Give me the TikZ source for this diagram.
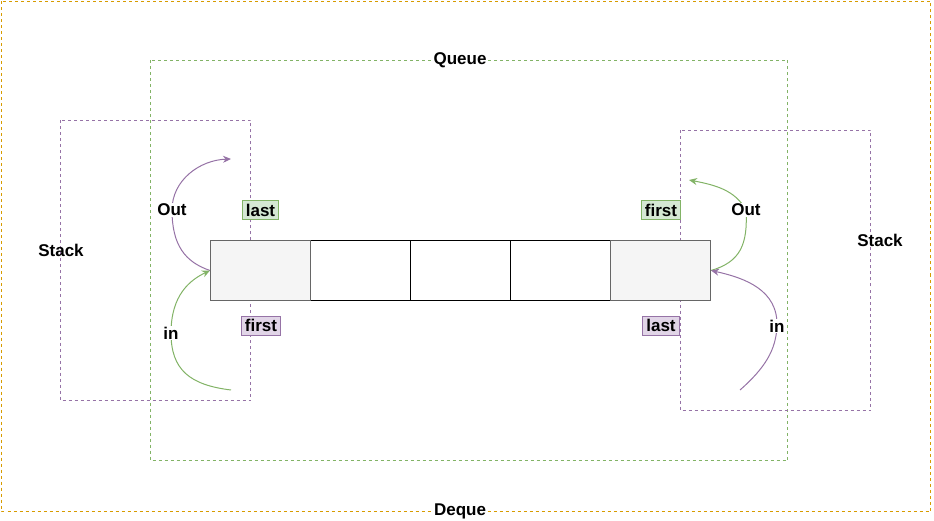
\documentclass[tikz,border=0pt]{standalone}
\usepackage{fontspec}
\setmainfont{Liberation Sans}
\usepackage{tikz}
\usetikzlibrary{arrows.meta}
\definecolor{dequeorange}{HTML}{D79B00}
\definecolor{queuegreen}{HTML}{82B366}
\definecolor{stackpurple}{HTML}{9673A6}
\definecolor{greenfill}{HTML}{D5E8D4}
\definecolor{purplefill}{HTML}{E1D5E7}
\definecolor{endfill}{HTML}{F5F5F5}

\begin{document}
\begin{tikzpicture}[x=1pt,y=-1pt,line width=1pt,
    font=\fontsize{17}{20}\selectfont\bfseries,
    frame/.style={dash pattern=on 3pt off 3pt},
    lbl/.style={fill=white,text=black,inner sep=1pt},
    tag/.style={draw,inner xsep=3.5pt,inner ysep=0pt,minimum height=19pt},
    cell/.style={draw,minimum width=100pt,minimum height=60pt,inner sep=0pt},
    arr/.style={-{Stealth[length=8pt,width=7pt]}}]
    \useasboundingbox (0,0) rectangle (934,521);
    % frames
    \draw[frame,dequeorange] (1.5,1.5) rectangle (930.5,511.5);
    \draw[frame,queuegreen] (150.5,60.5) rectangle (787.5,460.5);
    \draw[frame,stackpurple] (60.5,120.5) rectangle (250.5,400.5);
    \draw[frame,stackpurple] (680.5,130.5) rectangle (870.5,410.5);
    \node[lbl] (deque) at (460,511) {Deque};
    \node[lbl] (queue) at (460,60) {Queue};
    \node (stackL) at (61,250) {Stack};
    \node (stackR) at (880,240) {Stack};
    % cells
    \foreach \i in {1,...,5}
      \node[cell] (c\i) at (160.5+100*\i,270.5) {};
    \node[cell,fill=endfill,draw=black!60] (c1) at (260.5,270.5) {};
    \node[cell,fill=endfill,draw=black!60] (c5) at (660.5,270.5) {};
    % end tags
    \node[tag,draw=queuegreen,fill=greenfill] (lastL) at (260.5,210.5) {last};
    \node[tag,draw=stackpurple,fill=purplefill] (firstL) at (261,325.5) {first};
    \node[tag,draw=queuegreen,fill=greenfill] (firstR) at (661,210.5) {first};
    \node[tag,draw=stackpurple,fill=purplefill] (lastR) at (661,325.5) {last};
    % arrows
    \coordinate (outL) at (231,159);
    \coordinate (inL) at (231,390);
    \coordinate (outR) at (689,180);
    \coordinate (inR) at (740,390);
    \draw[arr,stackpurple] (c1.west) .. controls (185,262) and (172,245) .. (172,210)
      node[lbl] {Out} .. controls (172,180) and (200,160) .. (outL);
    \draw[arr,queuegreen] (inL) .. controls (190,385) and (171,370) .. (171,333)
      node[lbl] {in} .. controls (171,295) and (190,280) .. (c1.west);
    \draw[arr,queuegreen] (c5.east) .. controls (740,262) and (748,245) .. (746,210)
      node[lbl] {Out} .. controls (735,190) and (715,185) .. (outR);
    \draw[arr,stackpurple] (inR) .. controls (765,368) and (776,350) .. (777,326)
      node[lbl] {in} .. controls (778,290) and (745,278) .. (c5.east);
\end{tikzpicture}
\end{document}
